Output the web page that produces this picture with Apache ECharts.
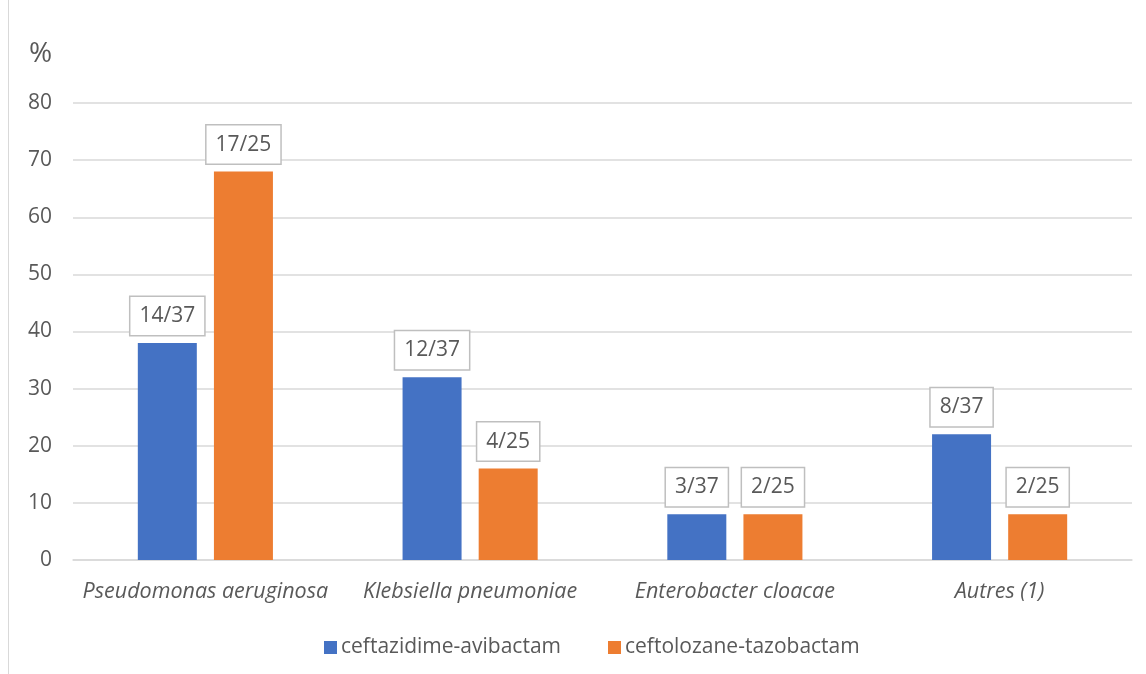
<!DOCTYPE html>
<html>
<head>
<meta charset="utf-8">
<script src="https://cdn.jsdelivr.net/npm/echarts@6/dist/echarts.min.js"></script>
<style>
  html, body { margin: 0; padding: 0; background: #fff; }
  #chart { width: 1146px; height: 674px; }
</style>
</head>
<body>
<div id="chart"></div>
<script>
// Germs isolated, as share of isolates per treatment group
const categories = ['Pseudomonas aeruginosa', 'Klebsiella pneumoniae', 'Enterobacter cloacae', 'Autres (1)'];
const seriesNames = ['ceftazidime-avibactam', 'ceftolozane-tazobactam'];
const countsCZA = [14, 12, 3, 8];
const totalCZA = 37;
const countsCTZ = [17, 4, 2, 2];
const totalCTZ = 25;
const yTicks = { min: 0, max: 80, interval: 10 };

const FONT = '"Open Sans", sans-serif';
const TEXT = '#595959';
const FS = 21;

// whole-number percentage of each group
function pct(counts, total) {
  return counts.map(c => Math.round(c / total * 100));
}

function barSeries(name, counts, total, color) {
  return {
    name: name,
    type: 'bar',
    barWidth: 59,
    barGap: '29%',
    itemStyle: { color: color },
    data: pct(counts, total).map((v, i) => ({ value: v, frac: counts[i] + '/' + total })),
    label: {
      show: true,
      position: 'top',
      distance: 8,
      formatter: p => p.data.frac,
      color: TEXT,
      fontFamily: FONT,
      fontSize: FS,
      lineHeight: 26,
      backgroundColor: '#fff',
      borderColor: '#bfbfbf',
      borderWidth: 1.5,
      padding: [6, 9, 6, 9]
    }
  };
}

const chart = echarts.init(document.getElementById('chart'));
chart.setOption({
  animation: false,
  textStyle: { fontFamily: FONT },
  grid: { left: 73, right: 14, top: 103, bottom: 114 },
  graphic: [
    { type: 'line', shape: { x1: 8.5, y1: 0, x2: 8.5, y2: 674 }, style: { stroke: '#d9d9d9', lineWidth: 1 } },
    { type: 'text', left: 29, top: 40, style: { text: '%', fill: TEXT, font: '28px ' + FONT } }
  ],
  legend: {
    bottom: 11,
    left: 319,
    itemWidth: 13,
    itemHeight: 13,
    itemGap: 47,
    icon: 'rect',
    textStyle: { color: TEXT, fontSize: FS, fontFamily: FONT, padding: [0, 0, 0, -1] },
    data: seriesNames
  },
  xAxis: {
    type: 'category',
    data: categories,
    axisLine: { lineStyle: { color: '#d9d9d9', width: 1.5 } },
    axisTick: { show: false },
    axisLabel: { color: TEXT, fontSize: 21.5, fontStyle: 'italic', fontFamily: FONT, margin: 21, interval: 0 }
  },
  yAxis: {
    type: 'value',
    min: yTicks.min,
    max: yTicks.max,
    interval: yTicks.interval,
    axisLine: { show: false },
    axisTick: { show: false },
    axisLabel: { color: TEXT, fontSize: FS, fontFamily: FONT, margin: 21 },
    splitLine: { lineStyle: { color: '#d9d9d9', width: 1.5 } }
  },
  series: [
    barSeries(seriesNames[0], countsCZA, totalCZA, '#4472C4'),
    barSeries(seriesNames[1], countsCTZ, totalCTZ, '#ED7D31')
  ]
});
</script>
</body>
</html>
